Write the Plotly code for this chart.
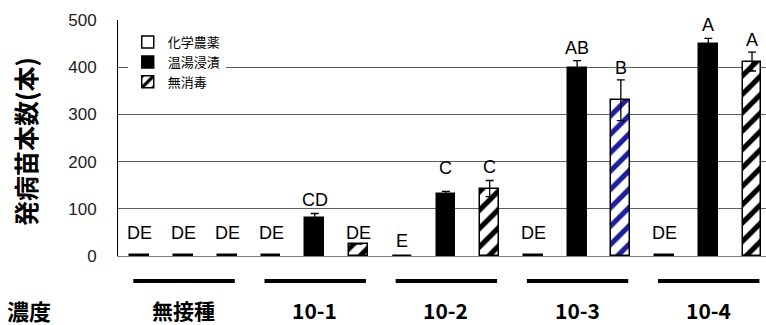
import plotly.graph_objects as go

# ---- data ----
groups = ["無接種", "10-1", "10-2", "10-3", "10-4"]
series = ["化学農薬", "温湯浸漬", "無消毒"]
chem_vals = [2.5, 2.5, 0.3, 2.5, 2.5]
hot_vals = [2.5, 80, 131, 399, 450]
none_vals = [2.5, 25, 143, 330, 412]
chem_err = [0, 0, 0, 0, 0]
hot_err = [0, 10, 6, 15, 11]
none_err = [0, 0, 17, 43, 20]
chem_letters = ["DE", "DE", "E", "DE", "DE"]
hot_letters = ["DE", "CD", "C", "AB", "A"]
none_letters = ["DE", "DE", "C", "B", "A"]
y_ticks = [0, 100, 200, 300, 400, 500]

# ---- styles ----
chem_shift = [10, 10, 3, 10, 10]
hot_shift = [10, 2, 11, 1, 1]
none_shift = [10, -1, 1, 0, 0]
none_hatch = ["black", "black", "black", "#1f1f9c", "black"]

LAT = "Liberation Sans, Arial, sans-serif"
CJK = "Noto Sans CJK JP, sans-serif"
n = len(groups)

def xs(s):
    return [3 * g + s for g in range(n)]

fig = go.Figure()
err_style = dict(type="data", visible=True, color="black", thickness=1.3, width=4)

fig.add_trace(go.Bar(
    name=series[0], x=xs(0), y=chem_vals, width=0.43,
    marker=dict(color="white", line=dict(color="black", width=1.5)),
    error_y=dict(array=chem_err, **err_style),
))
fig.add_trace(go.Bar(
    name=series[1], x=xs(1), y=hot_vals, width=0.43,
    marker=dict(color="black", line=dict(color="black", width=1.5)),
    error_y=dict(array=hot_err, **err_style),
))
fig.add_trace(go.Bar(
    name=series[2], x=xs(2), y=none_vals, width=0.43,
    marker=dict(color="white", line=dict(color="black", width=1.5),
                pattern=dict(shape="/", fgcolor=none_hatch, bgcolor="white", fgopacity=1,
                             size=13, solidity=0.4, fillmode="replace")),
    error_y=dict(array=none_err, **err_style),
))

ann = []
for s, (vals, errs, lets, shifts) in enumerate([
        (chem_vals, chem_err, chem_letters, chem_shift),
        (hot_vals, hot_err, hot_letters, hot_shift),
        (none_vals, none_err, none_letters, none_shift)]):
    for g in range(n):
        ann.append(dict(x=3 * g + s, y=vals[g] + errs[g], xref="x", yref="y",
                        text=lets[g], showarrow=False, yanchor="bottom",
                        yshift=shifts[g], font=dict(family=LAT, size=18, color="black")))

for g in range(n):
    ann.append(dict(x=3 * g + 1, y=-0.229, xref="x", yref="paper", text="<b>%s</b>" % groups[g],
                    showarrow=False, yanchor="middle", xanchor="center",
                    font=dict(family=CJK, size=21, color="black")))
    fig.add_shape(type="line", xref="x", yref="paper", x0=3 * g + 1 - 1.15, x1=3 * g + 1 + 1.17,
                  y0=-0.106, y1=-0.106, line=dict(color="black", width=4))

ann.append(dict(x=-0.137, y=-0.229, xref="paper", yref="paper", text="<b>濃度</b>",
                showarrow=False, xanchor="center", yanchor="middle",
                font=dict(family=CJK, size=22, color="black")))
ann.append(dict(x=-0.1435, y=0.483, xref="paper", yref="paper", text="<b>発病苗本数(本)</b>",
                showarrow=False, textangle=-90, xanchor="center", yanchor="middle",
                font=dict(family=CJK, size=25, color="black")))

fig.update_layout(
    width=766, height=325,
    margin=dict(l=118, r=0, t=20, b=69),
    paper_bgcolor="white", plot_bgcolor="white",
    barmode="overlay", bargap=0,
    showlegend=True,
    legend=dict(x=0.015, y=0.97, xanchor="left", yanchor="top", bgcolor="white",
                font=dict(family=CJK, size=13, color="black"), tracegroupgap=0,
                itemwidth=30),
    annotations=ann,
    xaxis=dict(range=[-0.5, 14.32], showticklabels=False, showgrid=False, zeroline=False,
               showline=True, linecolor="#808080", linewidth=1, ticks=""),
    yaxis=dict(range=[0, 500], tickvals=y_ticks, showgrid=True, gridcolor="#606060", gridwidth=1,
               zeroline=False, showline=True, linecolor="black", linewidth=1, ticks="",
               ticklabelstandoff=17,
               tickfont=dict(family=LAT, size=17, color="#222")),
)

fig.write_html("out.html", config={"displayModeBar": False},
               post_script="document.body.style.margin='0';document.body.style.overflow='hidden';")
